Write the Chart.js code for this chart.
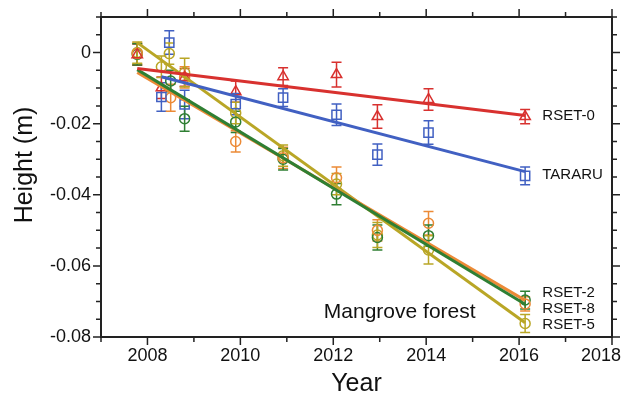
<!DOCTYPE html>
<html>
<head>
<meta charset="utf-8">
<script src="https://cdn.jsdelivr.net/npm/chart.js@4.4.0/dist/chart.umd.min.js"></script>
<style>
    html, body { margin: 0; background: #fff; }
</style>
</head>
<body>
<canvas id="mangroveChart" width="627" height="399"></canvas>
<script>
// #############################################################################
// Data

// RSET-0 (red triangles)
const rset0Years = [2007.78, 2008.3, 2008.8, 2009.9, 2010.92, 2012.07, 2012.95, 2014.05, 2016.13];
const rset0Values = [-0.0006, -0.0099, -0.007, -0.011, -0.0068, -0.0062, -0.018, -0.0132, -0.018];
const rset0Errors = [0.003, 0.003, 0.0025, 0.003, 0.0025, 0.0035, 0.0033, 0.003, 0.002];

// TARARU (blue squares)
const tararuYears = [2008.3, 2008.47, 2008.8, 2009.9, 2010.92, 2012.07, 2012.95, 2014.05, 2016.13];
const tararuValues = [-0.0125, 0.0028, -0.0146, -0.0145, -0.0127, -0.0175, -0.0287, -0.0225, -0.0347];
const tararuErrors = [0.004, 0.0033, 0.004, 0.003, 0.0025, 0.003, 0.003, 0.0033, 0.0025];

// RSET-8 (orange circles)
const rset8Years = [2007.78, 2008.5, 2008.8, 2009.9, 2010.92, 2012.07, 2012.95, 2014.05, 2016.13];
const rset8Values = [-0.0003, -0.0127, -0.007, -0.025, -0.0296, -0.0352, -0.05, -0.048, -0.0707];
const rset8Errors = [0.003, 0.0038, 0.003, 0.003, 0.003, 0.003, 0.003, 0.0033, 0.002];

// RSET-2 (green circles)
const rset2Years = [2007.78, 2008.5, 2008.8, 2009.9, 2010.92, 2012.07, 2012.95, 2014.05, 2016.13];
const rset2Values = [-0.0005, -0.008, -0.0186, -0.0195, -0.03, -0.0398, -0.052, -0.0515, -0.0696];
const rset2Errors = [0.003, 0.003, 0.0035, 0.003, 0.003, 0.003, 0.0035, 0.003, 0.0025];

// RSET-5 (olive circles)
const rset5Years = [2007.78, 2008.3, 2008.47, 2008.8, 2009.9, 2010.92, 2012.07, 2012.95, 2014.05, 2016.13];
const rset5Values = [0.0, -0.004, -0.0003, -0.0056, -0.017, -0.029, -0.037, -0.0513, -0.0555, -0.0762];
const rset5Errors = [0.003, 0.003, 0.003, 0.004, 0.003, 0.003, 0.003, 0.0035, 0.004, 0.0025];

// Linear fits (end points)
const fitYears = [2007.78, 2016.13];
const tararuFitYears = [2008.3, 2016.13];
const rset0Fit = [-0.0045, -0.0177];
const tararuFit = [-0.0068, -0.0335];
const rset8Fit = [-0.0056, -0.0697];
const rset2Fit = [-0.0048, -0.0708];
const rset5Fit = [0.0028, -0.076];

// Series labels at the right end
const seriesLabels = ["RSET-0", "TARARU", "RSET-2", "RSET-8", "RSET-5"];
const labelValues = [-0.0178, -0.0344, -0.0676, -0.0721, -0.0766];
const labelYear = 2016.5;

// Axis ticks
const xMajorTicks = [2008, 2010, 2012, 2014, 2016, 2018];
const xMinorTicks = [2007, 2009, 2011, 2013, 2015, 2017];
const yMajorTicks = [0, -0.02, -0.04, -0.06, -0.08];
const yTickLabels = ["0", "-0.02", "-0.04", "-0.06", "-0.08"];
const yMinorTicks = [0.01, 0.005, -0.005, -0.01, -0.015, -0.025, -0.03, -0.035, -0.045, -0.05, -0.055, -0.065, -0.07, -0.075];

// Colours
const red = "#d8312f";
const blue = "#4160c2";
const orange = "#ec8a36";
const green = "#2f7f33";
const olive = "#b9a626";

const fontFamily = "'Liberation Sans', Arial, sans-serif";

// #############################################################################
// Helpers

const toPoints = (xs, ys) => xs.map((x, i) => ({ x: x, y: ys[i] }));

const pointSeries = function (label, xs, ys, errs, color, style, radius) {
    return {
        label: label,
        data: toPoints(xs, ys),
        errorBars: errs,
        pointStyle: style,
        pointRadius: radius,
        borderColor: color,
        backgroundColor: "rgba(0,0,0,0)",
        borderWidth: 1.5,
        showLine: false,
        order: 2,
    };
};

const fitSeries = function (label, xs, ys, color) {
    return {
        label: label,
        data: toPoints(xs, ys),
        borderColor: color,
        borderWidth: 3,
        pointRadius: 0,
        showLine: true,
        fill: false,
        order: 1,
    };
};

// Error bars drawn under the markers
const errorBarPlugin = {
    id: "errorBars",
    beforeDatasetsDraw(chart) {
        const ctx = chart.ctx;
        const xScale = chart.scales.x;
        const yScale = chart.scales.y;
        chart.data.datasets.forEach((ds) => {
            if (!ds.errorBars) return;
            ctx.save();
            ctx.strokeStyle = ds.borderColor;
            ctx.lineWidth = 1.5;
            ds.data.forEach((p, i) => {
                const err = ds.errorBars[i];
                const px = xScale.getPixelForValue(p.x);
                const top = yScale.getPixelForValue(p.y + err);
                const bottom = yScale.getPixelForValue(p.y - err);
                ctx.beginPath();
                ctx.moveTo(px, top);
                ctx.lineTo(px, bottom);
                ctx.moveTo(px - 5, top);
                ctx.lineTo(px + 5, top);
                ctx.moveTo(px - 5, bottom);
                ctx.lineTo(px + 5, bottom);
                ctx.stroke();
            });
            ctx.restore();
        });
    },
};

// Frame, ticks on all four sides, tick labels, titles and annotations
const framePlugin = {
    id: "frame",
    afterDraw(chart) {
        const ctx = chart.ctx;
        const area = chart.chartArea;
        const xScale = chart.scales.x;
        const yScale = chart.scales.y;
        const major = 8;
        const minor = 5;

        ctx.save();
        ctx.strokeStyle = "#222";
        ctx.lineWidth = 2;
        ctx.strokeRect(area.left, area.top, area.right - area.left, area.bottom - area.top);

        ctx.lineWidth = 1.5;
        ctx.beginPath();
        const xTick = (v, len) => {
            const px = xScale.getPixelForValue(v);
            ctx.moveTo(px, area.bottom);
            ctx.lineTo(px, area.bottom + len);
            ctx.moveTo(px, area.top);
            ctx.lineTo(px, area.top - len);
        };
        const yTick = (v, len) => {
            const py = yScale.getPixelForValue(v);
            ctx.moveTo(area.left, py);
            ctx.lineTo(area.left - len, py);
            ctx.moveTo(area.right, py);
            ctx.lineTo(area.right + len, py);
        };
        xMajorTicks.forEach((v) => xTick(v, major));
        xMinorTicks.forEach((v) => xTick(v, minor));
        yMajorTicks.forEach((v) => yTick(v, major));
        yMinorTicks.forEach((v) => yTick(v, minor));
        ctx.stroke();

        // Tick labels
        ctx.fillStyle = "#111";
        ctx.font = "18px " + fontFamily;
        ctx.textBaseline = "middle";
        ctx.textAlign = "right";
        yMajorTicks.forEach((v, i) => {
            ctx.fillText(yTickLabels[i], area.left - major - 2, yScale.getPixelForValue(v));
        });
        ctx.textAlign = "center";
        xMajorTicks.forEach((v) => {
            let px = xScale.getPixelForValue(v);
            const half = ctx.measureText(String(v)).width / 2;
            px = Math.min(px, chart.width - 6 - half);
            ctx.fillText(String(v), px, area.bottom + 19);
        });

        // Axis titles
        ctx.font = "25px " + fontFamily;
        ctx.fillText("Year", (area.left + area.right) / 2, 384);
        ctx.save();
        ctx.translate(25, (area.top + area.bottom) / 2 - 12);
        ctx.rotate(-Math.PI / 2);
        ctx.fillText("Height (m)", 0, 0);
        ctx.restore();

        // Series labels
        ctx.font = "15px " + fontFamily;
        ctx.textAlign = "left";
        seriesLabels.forEach((label, i) => {
            ctx.fillText(label, xScale.getPixelForValue(labelYear), yScale.getPixelForValue(labelValues[i]));
        });

        // Site annotation
        ctx.font = "21px " + fontFamily;
        ctx.textAlign = "center";
        ctx.fillText("Mangrove forest", xScale.getPixelForValue(2013.43), yScale.getPixelForValue(-0.0731));
        ctx.restore();
    },
};

// #############################################################################
// Chart

const ctx = document.getElementById("mangroveChart").getContext("2d");
const chart = new Chart(ctx, {
    type: "scatter",
    data: {
        datasets: [
            fitSeries("RSET-0 fit", fitYears, rset0Fit, red),
            fitSeries("TARARU fit", tararuFitYears, tararuFit, blue),
            fitSeries("RSET-2 fit", fitYears, rset2Fit, green),
            fitSeries("RSET-8 fit", fitYears, rset8Fit, orange),
            fitSeries("RSET-5 fit", fitYears, rset5Fit, olive),
            pointSeries("RSET-0", rset0Years, rset0Values, rset0Errors, red, "triangle", 6),
            pointSeries("TARARU", tararuYears, tararuValues, tararuErrors, blue, "rect", 6.5),
            pointSeries("RSET-8", rset8Years, rset8Values, rset8Errors, orange, "circle", 5),
            pointSeries("RSET-2", rset2Years, rset2Values, rset2Errors, green, "circle", 5),
            pointSeries("RSET-5", rset5Years, rset5Values, rset5Errors, olive, "circle", 5),
        ],
    },
    options: {
        responsive: false,
        animation: false,
        layout: {
            padding: { left: 101, right: 15, top: 17, bottom: 62 },
        },
        plugins: {
            legend: { display: false },
            tooltip: { enabled: false },
        },
        scales: {
            x: { type: "linear", min: 2007, max: 2018, display: false },
            y: { type: "linear", min: -0.08, max: 0.01, display: false },
        },
    },
    plugins: [errorBarPlugin, framePlugin],
});
</script>
</body>
</html>
